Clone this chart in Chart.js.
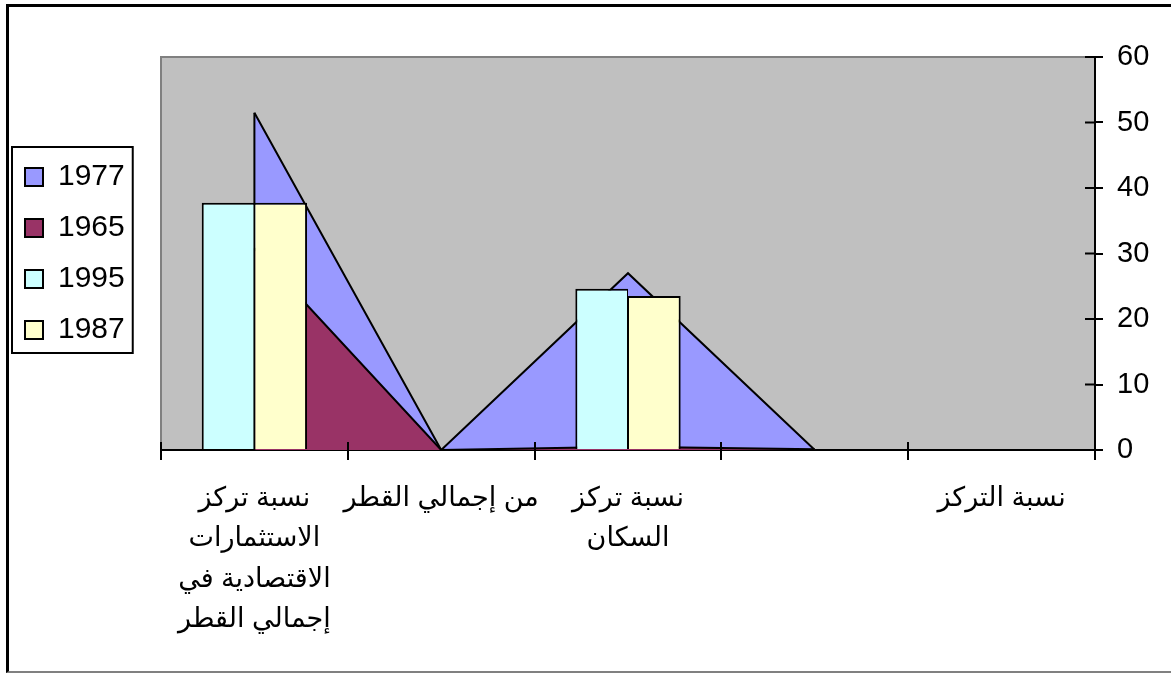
<!DOCTYPE html>
<html>
<head>
<meta charset="utf-8">
<script src="https://cdn.jsdelivr.net/npm/chart.js@4.4.1/dist/chart.umd.min.js"></script>
<style>
  html, body { margin: 0; padding: 0; background: #fff; overflow: hidden; }
  #frame {
    position: absolute; left: 6px; top: 4px; width: 1200px; height: 664px;
    border-top: 3px solid #000; border-left: 3px solid #000; border-bottom: 2px solid #808080;
  }
  #chart { position: absolute; left: 0; top: 0; }
</style>
</head>
<body>
<div id="frame"></div>
<canvas id="chart" width="1171" height="673"></canvas>
<script>
// data
const categories = [
    ['نسبة تركز', 'الاستثمارات', 'الاقتصادية في', 'إجمالي القطر'],
    'من إجمالي القطر',
    ['نسبة تركز', 'السكان'],
    '',
    'نسبة التركز'
];
const seriesNames = ['1977', '1965', '1995', '1987'];
const area1977 = [51.5, 0, 27, 0, null];
const area1965 = [30.8, 0, 0.5, 0.1, null];
const bars1995 = [37.75, null, 24.6, null, null];
const bars1987 = [37.75, null, 23.5, null, null];
const yMin = 0;
const yMax = 60;
const yStep = 10;

const colors = ['#9999FF', '#993366', '#CCFFFF', '#FFFFCC'];
const FONT = "'Liberation Sans', Arial, 'DejaVu Sans', sans-serif";
const legendBoxWidth = 157;

// gray plot area
const plotBackground = {
    id: 'plotBackground',
    beforeDraw(chart) {
        const { ctx, chartArea: a } = chart;
        ctx.save();
        ctx.fillStyle = '#C0C0C0';
        ctx.fillRect(a.left, a.top, a.right - a.left, a.bottom - a.top);
        ctx.strokeStyle = '#808080';
        ctx.lineWidth = 2;
        ctx.beginPath();
        ctx.moveTo(a.left, a.bottom);
        ctx.lineTo(a.left, a.top);
        ctx.lineTo(a.right, a.top);
        ctx.stroke();
        ctx.restore();
    }
};

// vertical left edge of the area series (excel style)
const areaEdges = {
    id: 'areaEdges',
    afterDatasetDraw(chart, args) {
        const meta = args.meta;
        if (meta.type !== 'line') return;
        const first = meta.data.find(p => !p.skip);
        if (!first) return;
        const base = chart.scales.y.getPixelForValue(0);
        const ctx = chart.ctx;
        ctx.save();
        ctx.strokeStyle = '#000';
        ctx.lineWidth = 2;
        ctx.beginPath();
        ctx.moveTo(first.x, first.y);
        ctx.lineTo(first.x, base);
        ctx.stroke();
        ctx.restore();
    }
};

// tick marks that cross the axis lines
const crossTicks = {
    id: 'crossTicks',
    afterDatasetsDraw(chart) {
        const { ctx, chartArea: a, scales } = chart;
        ctx.save();
        ctx.strokeStyle = '#000';
        ctx.lineWidth = 2;
        ctx.beginPath();
        const n = categories.length;
        for (let i = 0; i <= n; i++) {
            const x = Math.round(a.left + (a.right - a.left) * i / n);
            ctx.moveTo(x, a.bottom);
            ctx.lineTo(x, a.bottom - 8);
        }
        scales.y.ticks.forEach(t => {
            const y = scales.y.getPixelForValue(t.value);
            ctx.moveTo(a.right, y);
            ctx.lineTo(a.right - 10, y);
        });
        ctx.stroke();
        ctx.restore();
    }
};

// fixed legend width, so the plot starts where it does in the original
const legendWidth = {
    id: 'legendWidth',
    beforeLayout(chart) {
        const lg = chart.legend;
        if (lg && !lg.__fixed) {
            const fit = lg.fit;
            lg.fit = function () {
                fit.call(this);
                this.width = legendBoxWidth;
            };
            lg.__fixed = true;
        }
    }
};

// frame round the legend
const legendFrame = {
    id: 'legendFrame',
    afterDraw(chart) {
        const boxes = chart.legend && chart.legend.legendHitBoxes;
        if (!boxes || !boxes.length) return;
        const left = boxes[0].left - 13;
        const top = boxes[0].top - 15;
        const right = Math.max(...boxes.map(b => b.left + b.width)) + 8;
        const last = boxes[boxes.length - 1];
        const bottom = last.top + last.height + 8;
        const ctx = chart.ctx;
        ctx.save();
        ctx.strokeStyle = '#000';
        ctx.lineWidth = 2;
        ctx.strokeRect(left, top, right - left, bottom - top);
        ctx.restore();
    }
};

const ctx = document.getElementById('chart').getContext('2d');
new Chart(ctx, {
    data: {
        labels: categories,
        datasets: [
            {
                type: 'line', label: seriesNames[0], data: area1977,
                backgroundColor: colors[0], borderColor: '#000', borderWidth: 2,
                fill: 'origin', pointRadius: 0, tension: 0, order: 2
            },
            {
                type: 'line', label: seriesNames[1], data: area1965,
                backgroundColor: colors[1], borderColor: '#000', borderWidth: 2,
                fill: 'origin', pointRadius: 0, tension: 0, order: 1
            },
            {
                type: 'bar', label: seriesNames[2], data: bars1995,
                backgroundColor: colors[2], borderColor: '#000',
                borderWidth: { top: 2, left: 2, right: 1, bottom: 0 },
                categoryPercentage: 0.564, barPercentage: 1, order: 0
            },
            {
                type: 'bar', label: seriesNames[3], data: bars1987,
                backgroundColor: colors[3], borderColor: '#000',
                borderWidth: { top: 2, left: 1, right: 2, bottom: 0 },
                categoryPercentage: 0.564, barPercentage: 1, order: 0
            }
        ]
    },
    options: {
        responsive: false,
        animation: false,
        layout: { padding: { top: 57, left: 4, right: 0, bottom: 0 } },
        plugins: {
            tooltip: { enabled: false },
            legend: {
                position: 'left',
                align: 'center',
                fullSize: false,
                labels: {
                    boxWidth: 18,
                    boxHeight: 18,
                    padding: 21,
                    color: '#000',
                    font: { family: FONT, size: 30 },
                    sort: (a, b) => a.datasetIndex - b.datasetIndex,
                    generateLabels(chart) {
                        return Chart.defaults.plugins.legend.labels.generateLabels(chart)
                            .map(l => Object.assign(l, { lineWidth: 2, strokeStyle: '#000' }));
                    }
                }
            }
        },
        scales: {
            x: {
                grid: { offset: true, drawOnChartArea: false, tickLength: 10, color: '#000', lineWidth: 2 },
                border: { color: '#000', width: 2 },
                ticks: {
                    color: '#000',
                    font: { family: FONT, size: 27, lineHeight: 1.5 },
                    maxRotation: 0, minRotation: 0, autoSkip: false, padding: 18
                },
                afterFit(scale) { scale.height = 223; }
            },
            y: {
                position: 'right',
                min: yMin, max: yMax,
                grid: { drawOnChartArea: false, tickLength: 8, color: '#000', lineWidth: 2 },
                border: { color: '#000', width: 2 },
                ticks: {
                    stepSize: yStep, color: '#000', padding: 14,
                    font: { family: FONT, size: 29 }
                },
                afterFit(scale) { scale.width = 76; }
            }
        }
    },
    plugins: [plotBackground, areaEdges, crossTicks, legendWidth, legendFrame]
});
</script>
</body>
</html>
